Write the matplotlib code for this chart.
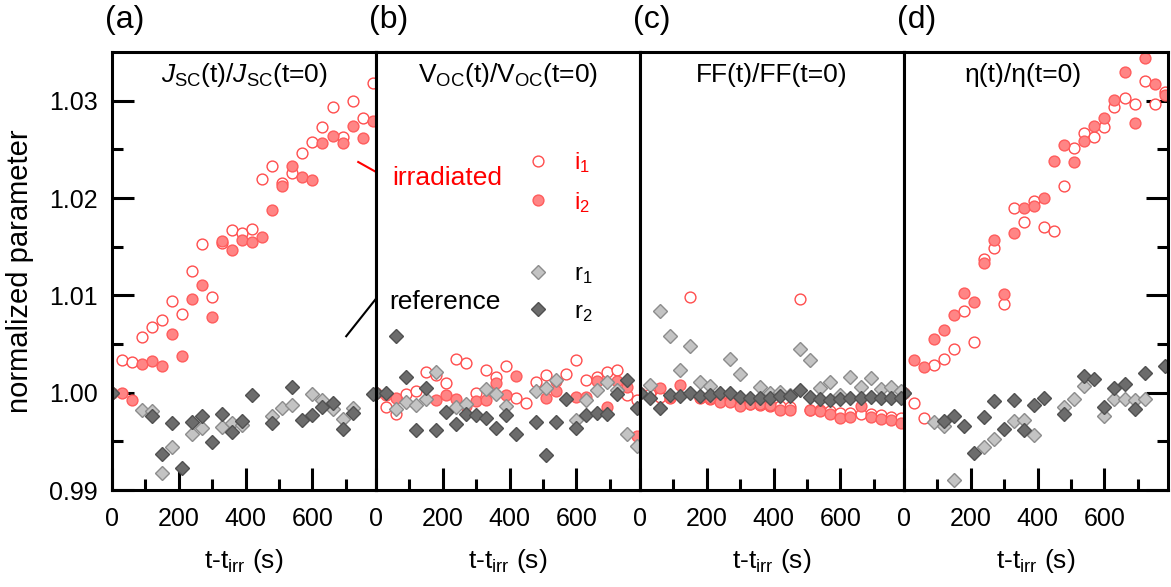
import numpy as np
import matplotlib
matplotlib.use("Agg")
import matplotlib.pyplot as plt

plt.rcParams['font.family'] = ['Liberation Sans', 'DejaVu Sans']
plt.rcParams['mathtext.fontset'] = 'custom'
plt.rcParams['mathtext.rm'] = 'Liberation Sans'
plt.rcParams['mathtext.it'] = 'Liberation Sans:italic'

nan = np.nan

# time after irradiation (s)
t = [0, 30, 60, 90, 120, 150, 180, 210, 240, 270, 300, 330, 360, 390,
     420, 450, 480, 510, 540, 570, 600, 630, 660, 690, 720, 750, 780]

# (a) Jsc
jsc_i1 = [1.0, 1.0034, 1.0032, 1.0057, 1.0067, 1.0075, 1.0094, 1.0081, 1.0125, 1.0153, 1.0098, 1.0154, 1.0167, 1.0164,
          1.0168, 1.0220, 1.0233, 1.0215, 1.0226, 1.0246, 1.0258, 1.0273, 1.0294, 1.0263, 1.0300, 1.0282, 1.0318]
jsc_i2 = [1.0, 1.0000, 0.9992, 1.0029, 1.0033, 1.0027, 1.0060, 1.0038, 1.0096, 1.0111, 1.0078, 1.0156, 1.0147, 1.0157,
          1.0155, 1.0160, 1.0188, 1.0212, 1.0233, 1.0222, 1.0218, 1.0257, 1.0264, 1.0257, 1.0274, 1.0262, 1.0279]
jsc_r1 = [1.0, nan, nan, 0.9982, 0.9981, 0.9918, 0.9944, nan, 0.9958, 0.9964, nan, 0.9965, 0.9969, 0.9967,
          nan, nan, 0.9976, 0.9984, 0.9987, nan, 0.9999, 0.9993, 0.9983, 0.9973, 0.9984, nan, nan]
jsc_r2 = [1.0, nan, nan, nan, 0.9976, 0.9937, 0.9969, 0.9923, 0.9970, 0.9976, 0.9949, 0.9978, 0.9960, 0.9971,
          0.9998, nan, 0.9969, nan, 1.0006, 0.9972, 0.9977, 0.9985, 0.9989, 0.9963, 0.9979, nan, 0.9999]

# (b) Voc
voc_i1 = [1.0, 0.9985, 0.9978, 0.9999, 1.0002, 1.0021, 1.0018, 1.0010, 1.0035, 1.0031, 1.0000, 1.0023, 1.0016, 1.0027,
          0.9995, 0.9989, 1.0011, 1.0018, 1.0012, 1.0019, 1.0034, 1.0013, 1.0016, 1.0021, 1.0023, 0.9998, 0.9993]
voc_i2 = [1.0, 0.9998, 0.9995, nan, nan, nan, 0.9993, 0.9998, 0.9994, 0.9986, 0.9991, 0.9992, 1.0010, 0.9998,
          1.0017, nan, nan, 0.9995, 1.0002, nan, 0.9996, 0.9996, 1.0012, 0.9985, 1.0012, 1.0006, 0.9955]
voc_r1 = [1.0, nan, 0.9983, 0.9990, 0.9987, 0.9994, 1.0021, nan, 0.9985, 0.9988, nan, 1.0004, 0.9999, 0.9986,
          nan, nan, 1.0002, 1.0005, 1.0013, nan, 0.9972, 0.9993, 1.0003, 1.0011, 1.0003, 0.9958, 0.9945]
voc_r2 = [1.0, 1.0000, 1.0058, 1.0016, 0.9962, 1.0005, 0.9962, 0.9980, 0.9968, 0.9978, 0.9977, 0.9974, 0.9964, 0.9977,
          0.9958, nan, 0.9970, 0.9936, 0.9970, 0.9994, 0.9964, 0.9977, 0.9979, 0.9978, 0.9999, 1.0013, 0.9984]

# (c) FF
ff_i1 = [1.0, 0.9999, 0.9996, 0.9995, nan, 1.0098, 0.9995, 0.9994, 0.9992, 0.9991, 0.9988, 0.9988, 0.9987, 0.9986,
         0.9986, 0.9985, 1.0096, 0.9982, 0.9982, 0.9981, 0.9979, 0.9979, 0.9978, 0.9978, 0.9977, 0.9975, 0.9974]
ff_i2 = [1.0, nan, 1.0005, 0.9996, 1.0008, nan, 0.9996, 0.9995, 0.9990, 0.9990, 0.9986, 0.9988, 0.9988, 0.9987,
         0.9982, 0.9982, nan, 0.9982, 0.9981, 0.9978, 0.9974, 0.9975, 0.9986, 0.9975, 0.9973, 0.9972, 0.9969]
ff_r1 = [1.0, 1.0008, 1.0084, 1.0058, 1.0023, 1.0048, 1.0011, 1.0007, nan, 1.0035, 1.0019, nan, 1.0006, 1.0000,
         1.0001, 0.9998, 1.0045, 1.0034, 1.0005, 1.0011, 0.9998, 1.0016, 1.0006, 1.0015, 1.0004, 1.0006, 1.0002]
ff_r2 = [1.0, 0.9995, 0.9984, 0.9998, 0.9997, 1.0000, 0.9997, 0.9998, 1.0000, 1.0000, 0.9996, 0.9995, 0.9995, 0.9995,
         0.9997, 0.9997, 1.0003, 0.9996, 0.9994, 0.9993, 0.9994, 0.9995, 0.9995, 0.9996, 0.9995, 0.9995, 0.9995]

# (d) efficiency
eta_i1 = [1.0, 0.9989, 0.9974, 1.0028, 1.0035, 1.0045, 1.0084, 1.0052, 1.0137, 1.0149, 1.0091, 1.0190, 1.0175, 1.0197,
          1.0170, 1.0166, 1.0212, 1.0251, 1.0267, 1.0263, 1.0273, 1.0293, 1.0303, 1.0297, 1.0320, 1.0297, 1.0309]
eta_i2 = [1.0, 1.0034, 1.0026, 1.0055, 1.0064, 1.0080, 1.0102, 1.0093, 1.0133, 1.0157, 1.0101, 1.0164, 1.0190, 1.0192,
          1.0200, 1.0238, 1.0254, 1.0237, 1.0259, 1.0274, 1.0282, 1.0301, 1.0329, 1.0277, 1.0344, 1.0317, 1.0306]
eta_r1 = [1.0, nan, nan, 0.9970, 0.9966, 0.9910, nan, nan, 0.9944, 0.9952, nan, 0.9971, 0.9972, 0.9957,
          nan, nan, 0.9985, 0.9994, 1.0007, nan, 0.9976, 0.9994, 0.9994, 0.9993, 0.9994, nan, nan]
eta_r2 = [1.0, nan, nan, nan, 0.9971, 0.9976, 0.9966, 0.9938, 0.9975, 0.9991, 0.9963, 0.9992, 0.9962, 0.9987,
          0.9995, nan, 0.9978, nan, 1.0017, 1.0014, 0.9985, 1.0005, 1.0009, 0.9983, 1.0020, nan, 1.0027]

titles = [r'$\mathit{J}_{\mathrm{SC}}$(t)/$\mathit{J}_{\mathrm{SC}}$(t=0)',
          r'V$_{\mathrm{OC}}$(t)/V$_{\mathrm{OC}}$(t=0)',
          'FF(t)/FF(t=0)',
          'η(t)/η(t=0)']
panel_labels = ['(a)', '(b)', '(c)', '(d)']
panels = [(jsc_i1, jsc_i2, jsc_r1, jsc_r2),
          (voc_i1, voc_i2, voc_r1, voc_r2),
          (ff_i1, ff_i2, ff_r1, ff_r2),
          (eta_i1, eta_i2, eta_r1, eta_r2)]

fig, axes = plt.subplots(1, 4, sharey=True, figsize=(11.71, 5.87), dpi=100)
fig.subplots_adjust(left=0.0956, right=0.9974, bottom=0.1652, top=0.9114, wspace=0)

handles = []
for k, ax in enumerate(axes):
    i1, i2, r1, r2 = panels[k]
    h1, = ax.plot(t, i1, 'o', ms=7.8, mfc='white', mec='#ff4d4d', mew=1.0, ls='none', label='i$_1$')
    h2, = ax.plot(t, i2, 'o', ms=7.8, mfc='#ff8585', mec='#ff5c5c', mew=1.0, ls='none', label='i$_2$')
    h3, = ax.plot(t, r1, 'D', ms=6.8, mfc='#c3c3c3', mec='#8c8c8c', mew=1.0, ls='none', label='r$_1$')
    h4, = ax.plot(t, r2, 'D', ms=6.8, mfc='#6c6c6c', mec='#505050', mew=1.0, ls='none', label='r$_2$')
    handles = [h1, h2, h3, h4]

    ax.set_xlim(0, 790)
    ax.set_ylim(0.99, 1.035)
    ax.set_xticks([0, 200, 400, 600])
    ax.set_xticks([100, 300, 500, 700], minor=True)
    ax.set_yticks([0.99, 1.00, 1.01, 1.02, 1.03])
    ax.set_yticks([0.995, 1.005, 1.015, 1.025], minor=True)
    for s in ax.spines.values():
        s.set_linewidth(2.2)
    ax.tick_params(axis='x', which='major', direction='in', length=16, width=2.2,
                   labelsize=18, pad=12, top=False)
    ax.tick_params(axis='x', which='minor', direction='in', length=8, width=2.2, top=False)
    ax.tick_params(axis='y', which='both', left=False, right=False, labelleft=False)
    ax.set_xlabel(r't-t$_{\mathrm{irr}}$ (s)', fontsize=19, labelpad=12)
    tx = 0.45 if k == 3 else 0.5
    ax.text(tx, 0.947, titles[k], transform=ax.transAxes, ha='center', va='center', fontsize=19)
    ax.text(-0.025, 1.072, panel_labels[k], transform=ax.transAxes, ha='left', va='center', fontsize=23)

axes[0].tick_params(axis='y', which='major', left=True, labelleft=True, direction='in',
                    length=16, width=2.2, labelsize=18, pad=10)
axes[0].tick_params(axis='y', which='minor', left=True, direction='in', length=8, width=2.2)
axes[0].yaxis.set_major_formatter(matplotlib.ticker.FormatStrFormatter('%.2f'))
axes[0].set_ylabel('normalized parameter', fontsize=21, labelpad=11)
axes[3].tick_params(axis='y', which='major', right=True, direction='in', length=16, width=2.2)
axes[3].tick_params(axis='y', which='minor', right=True, direction='in', length=8, width=2.2)

# annotations pointing into panel (a)
axes[0].plot([737, 815], [1.0237, 1.0222], color='red', lw=1.5, clip_on=False)
axes[0].plot([701, 812], [1.0058, 1.0106], color='black', lw=1.5, clip_on=False)
axes[1].text(50, 1.0221, 'irradiated', color='red', fontsize=19, ha='left', va='center')
axes[1].text(41, 1.0093, 'reference', color='black', fontsize=19, ha='left', va='center')

# legends in panel (b)
leg1 = axes[1].legend(handles[:2], ['i$_1$', 'i$_2$'], loc='upper left', bbox_to_anchor=(0.57, 0.775),
                      frameon=False, fontsize=17, labelcolor='red', handlelength=1.0,
                      handletextpad=1.0, labelspacing=0.6, borderpad=0, borderaxespad=0)
axes[1].add_artist(leg1)
axes[1].legend(handles[2:], ['r$_1$', 'r$_2$'], loc='upper left', bbox_to_anchor=(0.57, 0.517),
               frameon=False, fontsize=17, labelcolor='black', handlelength=1.0,
               handletextpad=1.0, labelspacing=0.6, borderpad=0, borderaxespad=0)

fig.savefig('out.png', dpi=100)
